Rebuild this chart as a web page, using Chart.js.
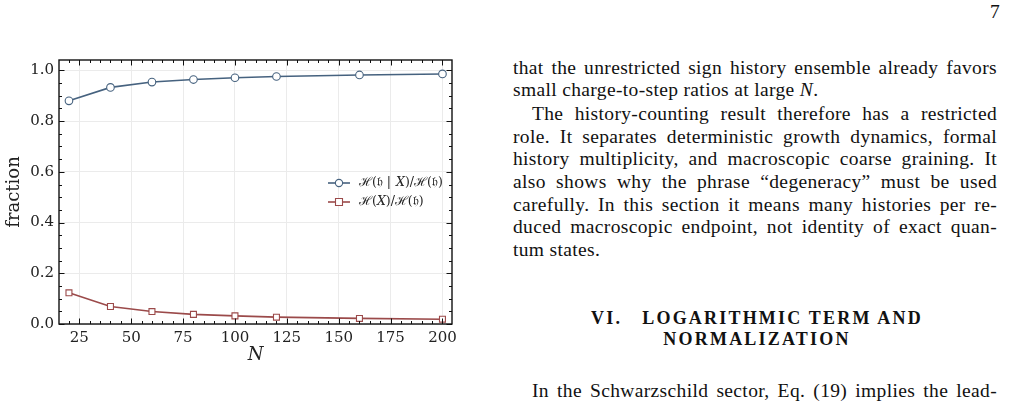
<!DOCTYPE html>
<html>
<head>
<meta charset="utf-8">
<script src="https://cdn.jsdelivr.net/npm/chart.js@4/dist/chart.umd.min.js"></script>
<style>
  html, body { margin:0; padding:0; background:#fff; width:1009px; height:402px; overflow:hidden; }
  #wrap { position:absolute; left:0; top:0; width:470px; height:402px; }
  .txt { position:absolute; left:0; top:0; font-family:"Liberation Serif", serif; font-size:19.5px; letter-spacing:0.35px; color:#111; }
  .ln { position:absolute; left:513px; width:484px; white-space:nowrap; text-align:justify; text-align-last:justify; line-height:22px; }
  .ind { left:532px; width:465px; }
  .last { text-align-last:left; }
  .hd { position:absolute; left:513px; width:488px; text-align:center; font-weight:bold; font-size:18px; letter-spacing:2.2px; line-height:22px; }
</style>
</head>
<body>
<div id="wrap"><canvas id="c" width="470" height="402"></canvas></div>
<div class="txt">
  <div class="ln last" style="top:1px; left:990px; width:20px;">7</div>
  <div class="ln" style="top:57px;">that the unrestricted sign history ensemble already favors</div>
  <div class="ln last" style="top:79px;">small charge-to-step ratios at large <i>N</i>.</div>
  <div class="ln ind" style="top:103px;">The history-counting result therefore has a restricted</div>
  <div class="ln" style="top:126px;">role. It separates deterministic growth dynamics, formal</div>
  <div class="ln" style="top:148px;">history multiplicity, and macroscopic coarse graining. It</div>
  <div class="ln" style="top:171px;">also shows why the phrase “degeneracy” must be used</div>
  <div class="ln" style="top:194px;">carefully. In this section it means many histories per re-</div>
  <div class="ln" style="top:216px;">duced macroscopic endpoint, not identity of exact quan-</div>
  <div class="ln last" style="top:239px;">tum states.</div>
  <div class="hd" style="top:307px;">VI.&nbsp;&nbsp;&nbsp;LOGARITHMIC TERM AND</div>
  <div class="hd" style="top:328px;">NORMALIZATION</div>
  <div class="ln ind" style="top:380px;">In the Schwarzschild sector, Eq. (19) implies the lead-</div>
</div>
<script>
const N_values = [20, 40, 60, 80, 100, 120, 160, 200];
const condFraction = [0.880, 0.933, 0.954, 0.964, 0.971, 0.976, 0.982, 0.986];
const macroFraction = [0.123, 0.069, 0.049, 0.038, 0.032, 0.027, 0.022, 0.019];
const seriesLabels = ['ℋ(𝔥 | X)/ℋ(𝔥)', 'ℋ(X)/ℋ(𝔥)'];
const xTickValues = [25, 50, 75, 100, 125, 150, 175, 200];
const yTickValues = [0.0, 0.2, 0.4, 0.6, 0.8, 1.0];
const xMinorStep = 5;
const yMinorStep = 0.05;

const BLUE = '#46627f';
const RED = '#9b4a4a';

function drawMathLabel(ctx, text, x, y) {
  // italicise capital latin letters, keep the rest upright
  let cx = x;
  for (const ch of text) {
    const italic = /[A-Z]/.test(ch);
    ctx.font = (italic ? 'italic ' : '') + '12.5px "DejaVu Serif", serif';
    ctx.fillText(ch, cx, y);
    cx += ctx.measureText(ch).width + (ch === '|' ? 1 : 0);
  }
}

const framePlugin = {
  id: 'frame',
  afterDatasetsDraw(chart) {
    const ctx = chart.ctx, a = chart.chartArea;
    const xs = chart.scales.x, ys = chart.scales.y;
    ctx.save();
    ctx.strokeStyle = '#111';
    ctx.lineWidth = 1;
    const tick = (x1,y1,x2,y2) => { ctx.beginPath(); ctx.moveTo(x1,y1); ctx.lineTo(x2,y2); ctx.stroke(); };
    for (let v = Math.ceil(xs.min / xMinorStep) * xMinorStep; v <= xs.max; v += xMinorStep) {
      const major = xTickValues.includes(v);
      const L = major ? 5.5 : 3;
      const px = Math.round(xs.getPixelForValue(v)) + 0.5;
      tick(px, a.bottom, px, a.bottom - L);
      tick(px, a.top, px, a.top + L);
    }
    for (let i = 0; i * yMinorStep <= ys.max + 1e-9; i++) {
      const v = i * yMinorStep;
      const major = (i % 4 === 0);
      const L = major ? 5.5 : 3;
      const py = Math.round(ys.getPixelForValue(v)) + 0.5;
      tick(a.left, py, a.left + L, py);
      tick(a.right, py, a.right - L, py);
    }
    ctx.lineWidth = 1.4;
    ctx.strokeRect(a.left, a.top, a.right - a.left, a.bottom - a.top);
    const lx = 328, ly0 = 183, dy = 19;
    chart.data.datasets.forEach((ds, i) => {
      const y = ly0 + i * dy;
      ctx.strokeStyle = ds.borderColor;
      ctx.lineWidth = 1.6;
      tick(lx, y, lx + 22, y);
      ctx.fillStyle = '#fff';
      ctx.lineWidth = 1.1;
      ctx.beginPath();
      if (ds.pointStyle === 'rect') { ctx.rect(lx + 7.5, y - 3.5, 7, 7); }
      else { ctx.arc(lx + 11, y, 3.6, 0, Math.PI * 2); }
      ctx.fill(); ctx.stroke();
      ctx.fillStyle = '#222';
      ctx.textBaseline = 'middle';
      drawMathLabel(ctx, ds.label, lx + 31, y);
    });
    ctx.restore();
  }
};

new Chart(document.getElementById('c'), {
  type: 'line',
  data: {
    datasets: [
      { label: seriesLabels[0], data: N_values.map((n,i)=>({x:n, y:condFraction[i]})),
        borderColor: BLUE, backgroundColor: '#fff', borderWidth: 1.6,
        pointStyle: 'circle', pointRadius: 3.8, pointBorderWidth: 1.1, pointBackgroundColor: '#fff', pointBorderColor: BLUE },
      { label: seriesLabels[1], data: N_values.map((n,i)=>({x:n, y:macroFraction[i]})),
        borderColor: RED, backgroundColor: '#fff', borderWidth: 1.6,
        pointStyle: 'rect', pointRadius: 4.2, pointBorderWidth: 1.1, pointBackgroundColor: '#fff', pointBorderColor: RED }
    ]
  },
  options: {
    responsive: false, animation: false, devicePixelRatio: 1,
    layout: { padding: { left: 0, top: 60, right: 18, bottom: 36 } },
    plugins: { legend: { display: false }, tooltip: { enabled: false } },
    scales: {
      x: {
        type: 'linear', min: 15.2, max: 204.6,
        afterBuildTicks: s => { s.ticks = xTickValues.map(v => ({ value: v })); },
        afterFit: s => { s.height = 42; },
        grid: { color: '#ebebeb', lineWidth: 1, drawTicks: false },
        border: { display: false },
        ticks: { padding: 5, color: '#222', font: { family: 'DejaVu Serif', size: 15 }, maxRotation: 0, callback: v => String(v) },
        title: { display: true, text: 'N', color: '#222', padding: 0, font: { family: 'DejaVu Serif', size: 18, style: 'italic' } }
      },
      y: {
        type: 'linear', min: 0, max: 1.041,
        afterBuildTicks: s => { s.ticks = yTickValues.map(v => ({ value: v })); },
        afterFit: s => { s.width = 59; },
        grid: { color: '#ebebeb', lineWidth: 1, drawTicks: false },
        border: { display: false },
        ticks: { padding: 5, color: '#222', font: { family: 'DejaVu Serif', size: 15 }, callback: v => v.toFixed(1) },
        title: { display: true, text: 'fraction', color: '#222', padding: { top: 4, bottom: 0 }, font: { family: 'DejaVu Serif', size: 18 } }
      }
    }
  },
  plugins: [framePlugin]
});
</script>
</body>
</html>
